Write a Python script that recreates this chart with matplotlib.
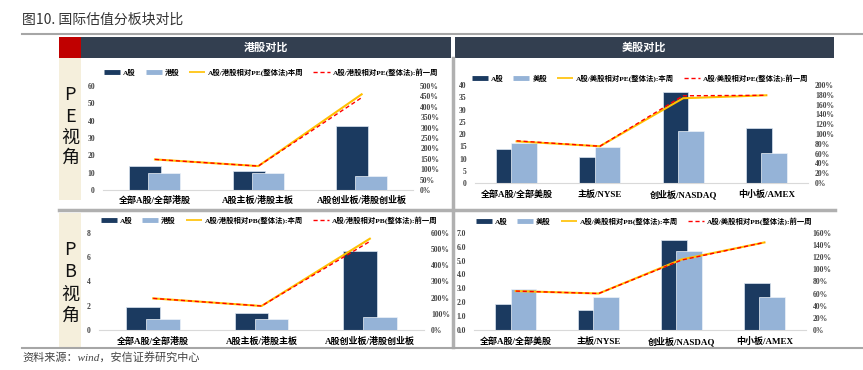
import matplotlib
matplotlib.use("Agg")
import matplotlib.pyplot as plt
from matplotlib.patches import Rectangle
from matplotlib.lines import Line2D
import numpy as np

# ---------------- data ----------------
categories_hk = ["全部A股/全部港股", "A股主板/港股主板", "A股创业板/港股创业板"]
categories_us = ["全部A股/全部美股", "主板/NYSE", "创业板/NASDAQ", "中小板/AMEX"]

pe_hk_a = [13.8, 10.8, 36.9]
pe_hk_h = [9.8, 9.8, 8.1]
pe_hk_rel_now = [147, 115, 460]
pe_hk_rel_prev = [147, 115, 444]

pe_us_a = [13.8, 10.8, 37.2, 22.6]
pe_us_u = [16.4, 14.6, 21.3, 12.3]
pe_us_rel_now = [85, 75, 173, 179]
pe_us_rel_prev = [86, 75, 178, 179]

pb_hk_a = [1.86, 1.37, 6.47]
pb_hk_h = [0.93, 0.93, 1.10]
pb_hk_rel_now = [195, 148, 563]
pb_hk_rel_prev = [195, 148, 546]

pb_us_a = [1.90, 1.44, 6.47, 3.40]
pb_us_u = [2.97, 2.35, 5.66, 2.35]
pb_us_rel_now = [64, 60, 116, 144]
pb_us_rel_prev = [64, 60, 115, 144]

# ---------------- style ----------------
W, H = 863, 370
fig = plt.figure(figsize=(W / 100, H / 100), dpi=100)
fig.patch.set_facecolor("white")

DARK = "#1b3a60"
LIGHT = "#95b3d7"
GOLD = "#ffc000"
RED = "#ff0000"
NAVY = "#333f50"
BEIGE = "#f5efdc"
GRAY = "#a6a6a6"
CJK = ["Liberation Serif", "Noto Sans CJK SC"]
SANS_CJK = ["Noto Sans CJK SC", "DejaVu Sans"]


def frect(x0, y0, x1, y1):
    return [x0 / W, 1 - y1 / H, (x1 - x0) / W, (y1 - y0) / H]


def box(x0, y0, x1, y1, color):
    fig.add_artist(Rectangle((x0 / W, 1 - y1 / H), (x1 - x0) / W, (y1 - y0) / H,
                             transform=fig.transFigure, facecolor=color,
                             edgecolor="none", zorder=0))


def hline(x0, x1, y, color, lw):
    fig.add_artist(Line2D([x0 / W, x1 / W], [1 - y / H, 1 - y / H],
                          transform=fig.transFigure, color=color, lw=lw))


def vline(x, y0, y1, color, lw):
    fig.add_artist(Line2D([x / W, x / W], [1 - y0 / H, 1 - y1 / H],
                          transform=fig.transFigure, color=color, lw=lw))


# title
fig.text(22 / W, 1 - 20 / H, "图10. 国际估值分板块对比", family=SANS_CJK,
         fontsize=10, color="#333333", va="center", ha="left", weight="medium")
hline(22, 863, 33.5, GRAY, 1.5)

# headers
box(59, 37, 81, 58, "#c00000")
box(81, 37, 451, 58, NAVY)
box(455, 37, 834, 58, NAVY)
fig.text(266 / W, 1 - 47.5 / H, "港股对比", family=SANS_CJK, fontsize=8,
         color="white", weight="bold", ha="center", va="center")
fig.text(644 / W, 1 - 47.5 / H, "美股对比", family=SANS_CJK, fontsize=8,
         color="white", weight="bold", ha="center", va="center")

# beige columns
box(59, 58, 81, 200, BEIGE)
box(59, 213, 81, 347, BEIGE)
for ch, y in zip(["P", "E", "视", "角"], [95, 117, 138, 158]):
    fig.text(70 / W, 1 - y / H, ch, family=SANS_CJK, fontsize=13,
             color="#111111", ha="center", va="center")
for ch, y in zip(["P", "B", "视", "角"], [250, 272, 295, 316]):
    fig.text(70 / W, 1 - y / H, ch, family=SANS_CJK, fontsize=13,
             color="#111111", ha="center", va="center")

# separators
hline(59, 835, 209.5, "#b0b0b0", 2.5)
vline(453, 58, 347, "#b0b0b0", 2.5)
hline(22, 863, 347.5, GRAY, 1.5)

# source
fig.text(22 / W, 1 - 357 / H, "资料来源：wind，安信证券研究中心", family=CJK,
         fontsize=8, color="#444444", style="italic", ha="left", va="center")


def panel(rect, cats, a_vals, b_vals, now, prev, ylim, yticks, yfmt,
          rlim, rticks, b_name, rel_name, leg_xy, xlab_pad):
    ax = fig.add_axes(frect(*rect))
    n = len(cats)
    x = np.arange(n)
    w = 0.31
    off = 0.092
    ax.bar(x - off, a_vals, w, color=DARK, edgecolor="#dce6f2", lw=0.5, zorder=2)
    ax.bar(x + off, b_vals, w, color=LIGHT, edgecolor="#eef3f9", lw=0.5, zorder=3)
    ax.set_xlim(-0.5, n - 0.5)
    ax.set_ylim(*ylim)
    ax.set_yticks(yticks)
    ax.set_yticklabels([yfmt.format(v) for v in yticks])
    ax.set_xticks(x)
    ax.set_xticklabels(cats, family=CJK, fontsize=6.5, weight="bold")
    for s in ["top", "left", "right"]:
        ax.spines[s].set_visible(False)
    ax.spines["bottom"].set_color("#d9d9d9")
    ax.spines["bottom"].set_linewidth(0.8)
    ax.tick_params(axis="both", length=0)
    ax.tick_params(axis="y", pad=6)
    ax.tick_params(axis="x", pad=xlab_pad)
    for t in ax.get_yticklabels():
        t.set_family("Liberation Serif")
        t.set_fontsize(5.5)
        t.set_weight("bold")
        t.set_color("#444444")
    ax.patch.set_alpha(0)

    ax2 = ax.twinx()
    ax2.plot(x, now, color=GOLD, lw=1.5, zorder=4)
    ax2.plot(x, prev, color=RED, lw=1.0, ls=(0, (3, 2)), zorder=5)
    ax2.set_ylim(*rlim)
    ax2.set_yticks(rticks)
    ax2.set_yticklabels([f"{v:g}%" for v in rticks])
    for s in ["top", "left", "right", "bottom"]:
        ax2.spines[s].set_visible(False)
    ax2.tick_params(axis="y", length=0, pad=5)
    for t in ax2.get_yticklabels():
        t.set_family("Liberation Serif")
        t.set_fontsize(5.5)
        t.set_weight("bold")
        t.set_color("#444444")

    handles = [Line2D([], [], color=DARK, lw=3.5, solid_capstyle="butt"),
               Line2D([], [], color=LIGHT, lw=3.5, solid_capstyle="butt"),
               Line2D([], [], color=GOLD, lw=1.2, solid_capstyle="butt"),
               Line2D([], [], color=RED, lw=1.0, ls=(0, (3, 2)))]
    labels = ["A股", b_name, rel_name[0], rel_name[1]]
    fig.legend(handles, labels, loc="center",
               bbox_to_anchor=(leg_xy[0] / W, 1 - leg_xy[1] / H),
               ncol=4, frameon=False, handlelength=2.2, columnspacing=1.3,
               handletextpad=0.4, borderpad=0.2,
               prop={"family": CJK, "size": 5.3, "weight": "bold"})
    return ax


panel((103.3, 86, 413.3, 190), categories_hk, pe_hk_a, pe_hk_h,
      pe_hk_rel_now, pe_hk_rel_prev, (0, 60), list(range(0, 61, 10)), "{:g}",
      (0, 500), list(range(0, 501, 50)), "港股",
      ["A股/港股相对PE(整体法)本周", "A股/港股相对PE(整体法):前一周"], (271, 72), 4)

panel((475, 85, 808, 183), categories_us, pe_us_a, pe_us_u,
      pe_us_rel_now, pe_us_rel_prev, (0, 40), list(range(0, 41, 5)), "{:g}",
      (0, 200), list(range(0, 201, 20)), "美股",
      ["A股/美股相对PE(整体法):本周", "A股/美股相对PE(整体法):前一周"], (640, 78), 5)

panel((99, 232.7, 424, 330), categories_hk, pb_hk_a, pb_hk_h,
      pb_hk_rel_now, pb_hk_rel_prev, (0, 8), list(range(0, 9, 2)), "{:g}",
      (0, 600), list(range(0, 601, 100)), "港股",
      ["A股/港股相对PB(整体法):本周", "A股/港股相对PB(整体法):前一周"], (269, 220), 5)

panel((474.3, 232.7, 805.9, 330), categories_us, pb_us_a, pb_us_u,
      pb_us_rel_now, pb_us_rel_prev, (0, 7), [0, 1, 2, 3, 4, 5, 6, 7], "{:.1f}",
      (0, 160), list(range(0, 161, 20)), "美股",
      ["A股/美股相对PB(整体法):本周", "A股/美股相对PB(整体法):前一周"], (644, 221), 5)

fig.savefig("out.png", dpi=100, facecolor="white")
